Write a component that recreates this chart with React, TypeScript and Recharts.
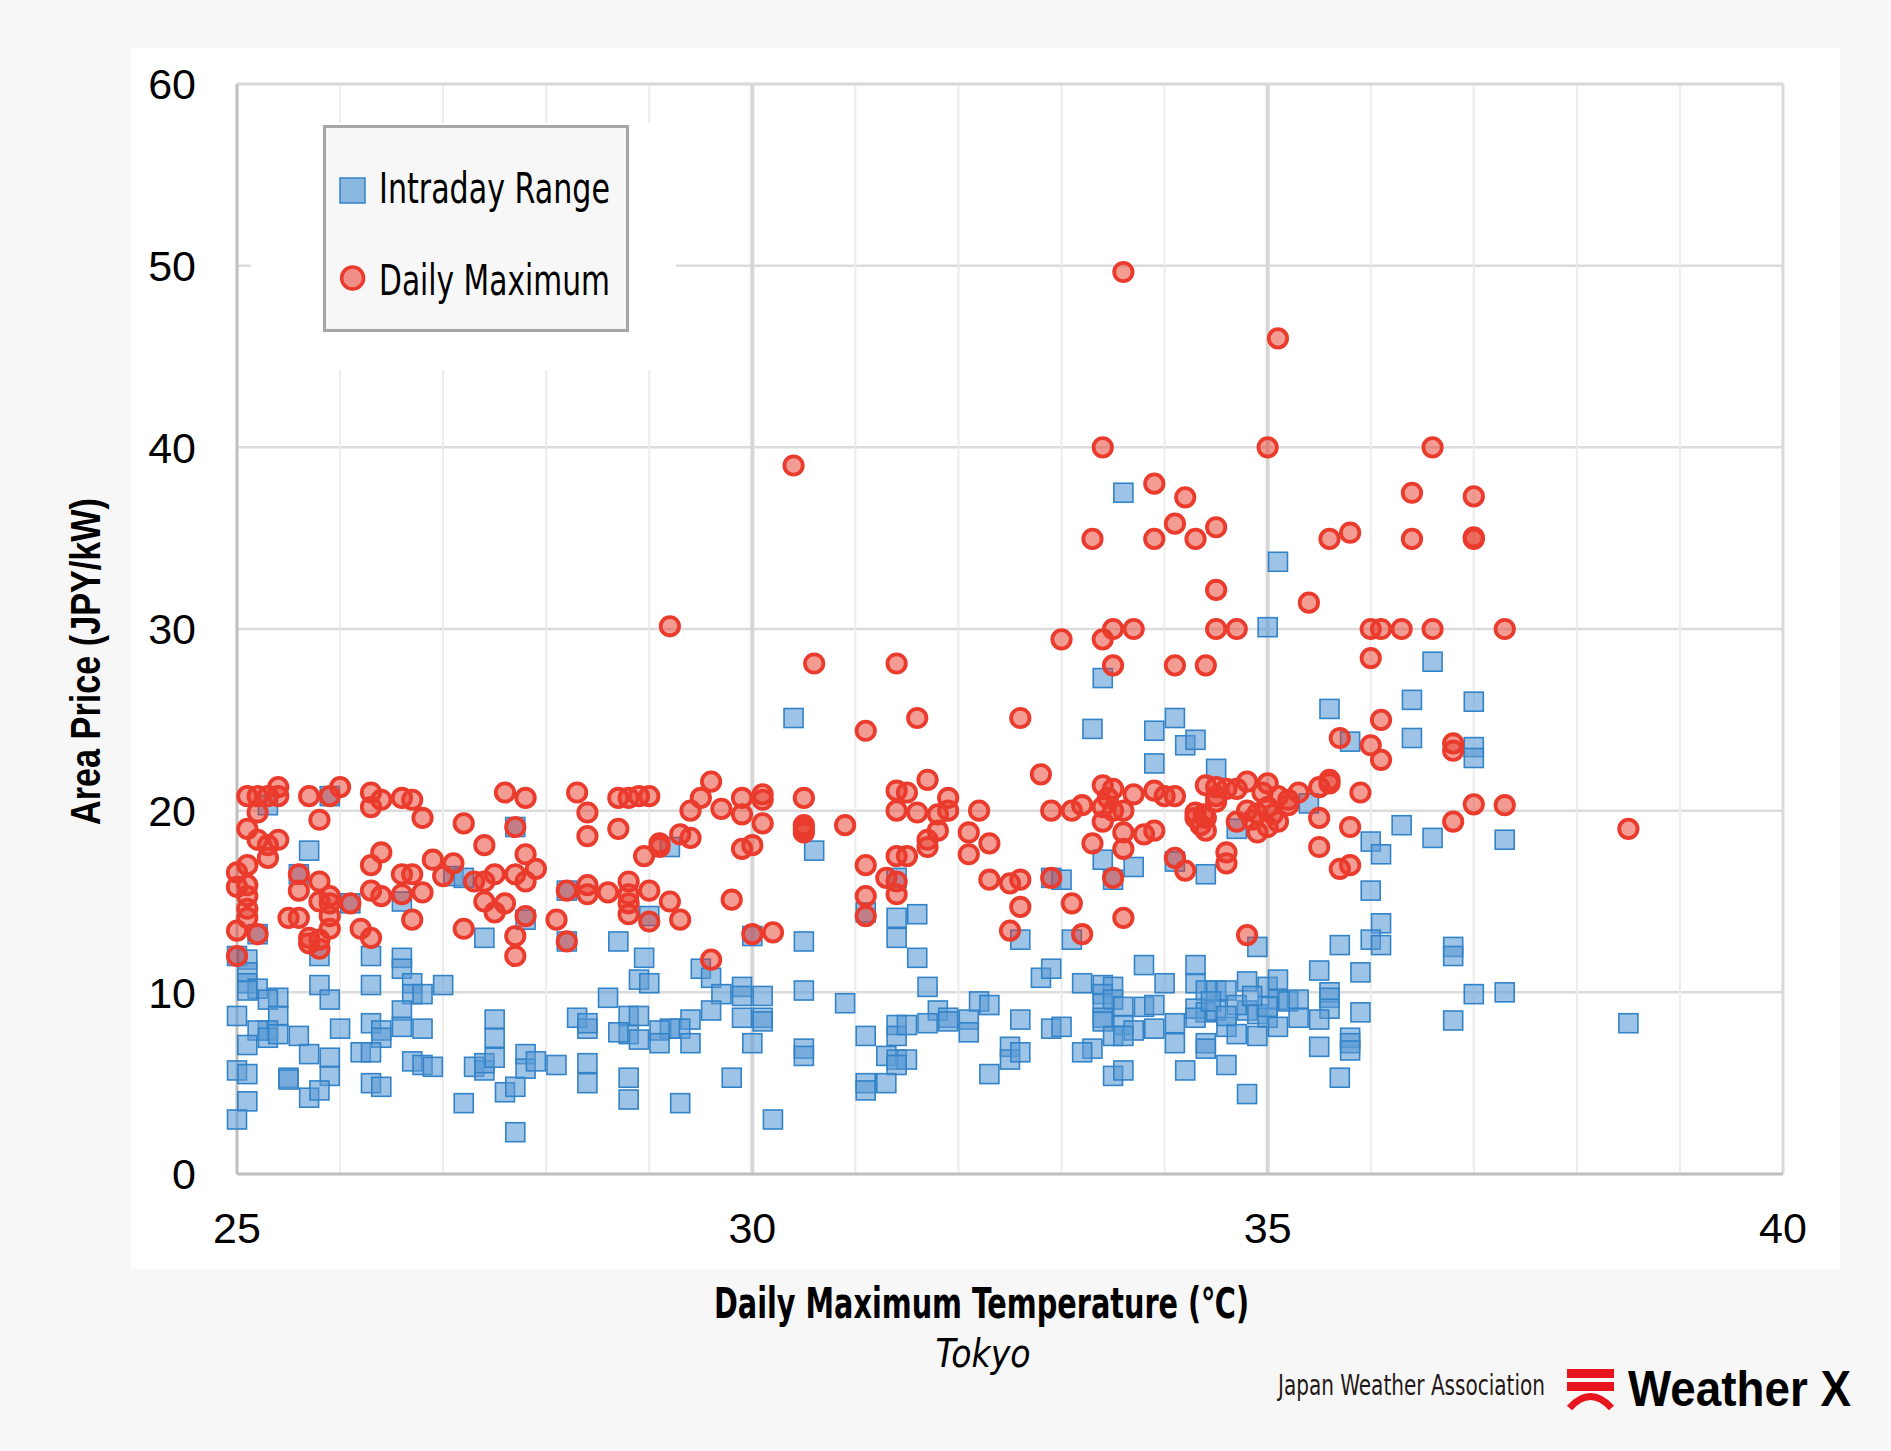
import { CartesianGrid, Legend, ReferenceLine, Scatter, ScatterChart, XAxis, YAxis } from 'recharts';

// daily max temperature (°C), area price (JPY/kW)
const intradayRange: [number, number][] = [
  [25.3, 20.3], [25.9, 20.8], [25.7, 17.8], [25.6, 16.5], [25.2, 13.2], [25.0, 12.0], [25.1, 11.8], [25.1, 11.1],
  [25.1, 10.5], [25.2, 10.2], [25.1, 10.1], [25.4, 9.7], [25.3, 9.6], [25.0, 8.7], [25.4, 8.7], [25.3, 7.9],
  [25.2, 7.9], [25.3, 7.5], [25.4, 7.7], [25.6, 7.6], [25.1, 7.1], [25.0, 5.7], [25.1, 5.5], [25.5, 5.3],
  [25.5, 5.2], [25.7, 6.6], [25.9, 6.4], [25.9, 5.4], [25.7, 4.2], [25.8, 4.6], [25.1, 4.0], [25.0, 3.0],
  [25.8, 12.0], [25.8, 10.4], [25.9, 9.6], [26.0, 8.0], [26.3, 12.0], [26.3, 10.4], [26.3, 8.3], [26.4, 7.9],
  [26.4, 7.5], [26.2, 6.7], [26.3, 6.7], [26.3, 5.0], [26.4, 4.8], [26.6, 11.9], [26.6, 11.3], [26.7, 10.5],
  [26.7, 9.9], [26.8, 9.9], [27.0, 10.4], [26.6, 9.0], [26.6, 8.1], [26.8, 8.0], [26.7, 6.2], [26.8, 6.0],
  [26.9, 5.9], [26.1, 14.9], [26.6, 15.0], [27.1, 16.4], [27.2, 16.3], [27.4, 13.0], [27.3, 5.9], [27.4, 5.7],
  [27.4, 6.1], [27.2, 3.9], [27.5, 8.5], [27.5, 7.5], [27.5, 6.4], [27.6, 4.5], [27.7, 4.8], [27.7, 2.3],
  [27.8, 6.6], [27.8, 5.8], [27.9, 6.2], [28.1, 6.0], [27.7, 19.1], [27.8, 14.0], [28.2, 15.6], [28.2, 12.8],
  [28.3, 8.6], [28.4, 8.0], [28.4, 8.3], [28.6, 9.7], [28.4, 6.1], [28.4, 5.0], [28.7, 12.8], [28.8, 7.7],
  [28.8, 8.7], [28.9, 8.7], [28.7, 7.8], [28.8, 5.3], [28.8, 4.1], [28.9, 7.4], [28.9, 10.7], [28.95, 11.9],
  [29.2, 18.0], [29.0, 14.2], [30.0, 13.1], [30.6, 17.8], [30.5, 12.8], [29.0, 10.5], [29.5, 11.3], [29.6, 10.8],
  [29.7, 9.9], [29.9, 10.3], [29.9, 9.8], [30.1, 9.8], [29.6, 9.0], [29.9, 8.6], [30.1, 8.6], [30.1, 8.4],
  [29.4, 8.5], [29.3, 8.0], [29.2, 8.0], [29.1, 7.9], [29.1, 7.2], [29.4, 7.2], [30.0, 7.2], [30.5, 10.1],
  [30.5, 6.9], [30.5, 6.5], [30.9, 9.4], [29.8, 5.3], [29.3, 3.9], [30.2, 3.0], [31.1, 7.6], [31.3, 6.5],
  [31.4, 8.2], [31.4, 7.6], [31.5, 8.2], [31.4, 6.3], [31.5, 6.3], [31.4, 6.0], [31.1, 5.0], [31.1, 4.6],
  [31.3, 5.0], [31.1, 14.4], [31.4, 14.1], [31.6, 14.3], [31.4, 13.0], [31.6, 11.9], [31.4, 16.3], [31.7, 10.3],
  [31.8, 9.0], [31.7, 8.3], [31.9, 8.6], [31.9, 8.4], [32.1, 8.5], [32.1, 7.8], [32.2, 9.5], [32.3, 9.3],
  [32.5, 7.0], [32.5, 6.3], [32.6, 6.7], [32.3, 5.5], [32.6, 8.5], [32.6, 12.9], [32.8, 10.8], [32.9, 11.3],
  [32.9, 8.0], [32.9, 16.3], [30.4, 25.1],
  [33.9, 22.6], [34.5, 22.3], [35.4, 20.4], [33.4, 17.3], [33.7, 16.9], [33.0, 16.2], [33.5, 16.2], [34.1, 17.2],
  [34.4, 16.5], [33.1, 12.9], [34.9, 12.5], [36.3, 19.2], [36.6, 18.5], [36.0, 18.3], [36.1, 17.6], [36.0, 15.6],
  [36.1, 13.8], [36.0, 12.9], [36.1, 12.6], [35.7, 12.6], [36.8, 12.5], [36.8, 12.0], [36.8, 8.45], [33.2, 10.5],
  [33.4, 10.4], [33.5, 10.3], [33.4, 9.9], [33.4, 9.4], [33.5, 9.6], [33.6, 9.2], [33.4, 8.6], [33.4, 8.4],
  [33.6, 8.2], [33.7, 7.9], [33.5, 7.6], [33.6, 7.6], [33.8, 9.2], [33.9, 9.3], [33.8, 11.5], [34.0, 10.5],
  [34.1, 8.3], [33.9, 8.0], [34.1, 7.2], [33.3, 6.9], [33.2, 6.7], [33.5, 5.4], [33.6, 5.7], [34.2, 5.7],
  [34.3, 11.5], [34.3, 10.5], [34.4, 10.1], [34.3, 9.1], [34.4, 8.9], [34.5, 10.1], [34.6, 10.1], [34.5, 9.0],
  [34.3, 8.6], [34.4, 7.2], [34.6, 6.0], [34.6, 8.1], [34.7, 7.7], [34.8, 10.6], [34.8, 9.0], [34.9, 8.8],
  [35.0, 10.3], [35.1, 10.7], [35.1, 9.6], [35.2, 9.5], [35.3, 9.6], [35.0, 8.6], [35.1, 8.1], [34.9, 7.6],
  [35.3, 8.6], [35.5, 11.2], [35.6, 10.0], [35.6, 9.7], [35.6, 9.1], [35.5, 8.5], [35.9, 11.1], [35.9, 8.9],
  [35.5, 7.0], [35.8, 7.5], [35.8, 7.2], [35.8, 6.8], [35.7, 5.3], [34.8, 4.4], [34.4, 6.9], [33.0, 8.1],
  [34.45, 9.5], [34.7, 9.3], [35.0, 9.2], [34.85, 9.8], [34.6, 8.7], [34.7, 19.0],
  [33.6, 37.5], [35.1, 33.7], [35.0, 30.1], [36.6, 28.2], [33.4, 27.3], [36.4, 26.1], [37.0, 26.0], [35.6, 25.6],
  [33.3, 24.5], [34.1, 25.1], [33.9, 24.4], [36.4, 24.0], [35.8, 23.8], [34.2, 23.6], [34.3, 23.9], [37.0, 23.5],
  [37.0, 22.9], [37.3, 18.4], [37.0, 9.9], [37.3, 10.0], [38.5, 8.3],
];

const dailyMaximum: [number, number][] = [
  [25.1, 20.8], [25.2, 20.8], [25.3, 20.8], [25.4, 21.3], [25.4, 20.8], [25.2, 19.9], [25.7, 20.8], [25.9, 20.8],
  [26.0, 21.3], [25.8, 19.5], [26.3, 21.0], [26.4, 20.6], [26.3, 20.2], [26.6, 20.7], [26.7, 20.6], [26.8, 19.6],
  [25.1, 19.0], [25.2, 18.4], [25.3, 18.1], [25.4, 18.4], [25.3, 17.4], [25.1, 17.0], [25.0, 16.6], [25.0, 15.8],
  [25.1, 15.9], [25.1, 15.3], [25.1, 14.6], [25.1, 14.1], [25.0, 13.4], [25.2, 13.2], [25.0, 12.0], [25.6, 16.5],
  [25.6, 15.6], [25.8, 16.1], [25.8, 15.0], [25.9, 15.3], [25.9, 14.9], [25.9, 14.2], [25.9, 13.5], [26.1, 14.9],
  [25.5, 14.1], [25.6, 14.1], [25.7, 13.0], [25.8, 12.9], [25.7, 12.7], [25.8, 12.4], [26.4, 17.7], [26.3, 17.0],
  [26.3, 15.6], [26.4, 15.3], [26.6, 16.5], [26.7, 16.5], [26.6, 15.4], [26.8, 15.5], [26.7, 14.0], [26.2, 13.5],
  [26.3, 13.0], [26.9, 17.3], [27.1, 17.1], [27.0, 16.4], [27.2, 19.3], [27.4, 18.1], [27.3, 16.1], [27.4, 16.1],
  [27.5, 16.5], [27.4, 15.0], [27.6, 14.9], [27.5, 14.4], [27.2, 13.5], [27.6, 21.0], [27.8, 20.7], [27.7, 19.1],
  [27.8, 17.6], [27.9, 16.8], [27.7, 16.5], [27.8, 16.1], [27.8, 14.2], [27.7, 13.1], [27.7, 12.0], [28.1, 14.0],
  [28.2, 12.8], [28.2, 15.6], [28.4, 15.9], [28.4, 15.4], [28.6, 15.5], [28.3, 21.0], [28.4, 19.9], [28.4, 18.6],
  [28.7, 19.0], [28.7, 20.7], [28.8, 20.7], [28.9, 20.8], [28.8, 16.1], [28.8, 15.4], [28.8, 14.9], [28.8, 14.3],
  [28.95, 17.5],
  [29.0, 20.8], [29.6, 21.6], [29.5, 20.7], [29.4, 20.0], [29.7, 20.1], [29.9, 20.7], [29.9, 19.8], [30.1, 20.9],
  [30.1, 20.6], [30.1, 19.3], [30.5, 20.7], [30.5, 19.2], [30.5, 19.0], [30.5, 18.8], [30.9, 19.2], [29.3, 18.7],
  [29.4, 18.5], [29.1, 18.2], [29.1, 18.0], [29.9, 17.9], [30.0, 18.1], [29.0, 15.6], [29.2, 15.0], [29.0, 13.9],
  [29.3, 14.0], [29.8, 15.1], [30.0, 13.2], [30.2, 13.3], [29.6, 11.8], [31.1, 17.0], [31.1, 15.3], [31.1, 14.2],
  [31.3, 16.3], [31.4, 16.1], [31.4, 15.4], [31.4, 21.1], [31.5, 21.0], [31.4, 20.0], [31.6, 19.9], [31.7, 21.7],
  [31.9, 20.7], [31.9, 20.0], [31.8, 19.8], [31.8, 18.9], [31.7, 18.4], [31.7, 18.0], [31.4, 17.5], [31.5, 17.5],
  [32.2, 20.0], [32.1, 18.8], [32.3, 18.2], [32.1, 17.6], [32.3, 16.2], [32.5, 16.0], [32.6, 16.2], [32.6, 14.7],
  [32.5, 13.4], [32.8, 22.0], [32.9, 20.0], [32.9, 16.3],
  [30.4, 39.0], [29.2, 30.15], [30.6, 28.1], [31.4, 28.1], [31.1, 24.4], [31.6, 25.1], [32.6, 25.1],
  [33.1, 20.0], [33.2, 20.3], [33.4, 21.4], [33.5, 21.2], [33.4, 20.2], [33.5, 20.0], [33.6, 20.0], [33.4, 19.4],
  [33.7, 20.9], [33.9, 21.1], [34.0, 20.8], [34.1, 20.8], [33.6, 18.8], [33.8, 18.7], [33.9, 18.9], [33.3, 18.2],
  [33.6, 17.9], [34.1, 17.4], [34.2, 16.7], [33.5, 16.3], [33.1, 14.9], [33.2, 13.2], [33.6, 14.1], [34.3, 19.9],
  [34.3, 19.6], [34.4, 19.6], [34.4, 18.9], [34.4, 21.4], [34.5, 21.3], [34.6, 21.2], [34.7, 21.2], [34.8, 21.6],
  [35.0, 21.5], [34.5, 20.8], [34.5, 20.5], [34.7, 19.4], [34.8, 20.0], [34.9, 19.85], [34.9, 18.8], [35.0, 19.1],
  [35.1, 19.4], [35.2, 20.6], [35.3, 21.0], [35.5, 21.3], [35.6, 21.5], [35.6, 21.7], [35.5, 19.6], [35.8, 19.1],
  [35.9, 21.0], [35.5, 18.0], [35.7, 16.8], [35.8, 17.0], [34.6, 17.7], [34.6, 17.1], [34.8, 13.15], [36.1, 22.8],
  [36.8, 19.4], [34.35, 19.2], [34.38, 19.8], [34.85, 19.5], [35.0, 20.2], [35.05, 19.8], [34.95, 21.0],
  [35.1, 20.8], [35.2, 20.3], [33.45, 20.7],
  [33.6, 49.65], [35.1, 46.0], [33.4, 40.0], [35.0, 40.0], [36.6, 40.0], [33.9, 38.0], [34.2, 37.25], [36.4, 37.5],
  [37.0, 37.3], [34.1, 35.8], [34.5, 35.6], [33.3, 34.96], [33.9, 34.96], [34.3, 34.96], [35.6, 34.96],
  [35.8, 35.3], [36.4, 34.96], [37.0, 34.96], [37.0, 35.05], [34.5, 32.15], [35.4, 31.45], [33.0, 29.43],
  [33.4, 29.43], [33.5, 30.0], [33.7, 30.0], [34.5, 30.0], [34.7, 30.0], [36.0, 30.0], [36.1, 30.0], [36.3, 30.0],
  [36.6, 30.0], [37.3, 30.0], [36.0, 28.4], [33.5, 28.0], [34.1, 28.0], [34.4, 28.0], [36.1, 25.0], [35.7, 24.0],
  [36.0, 23.6], [36.8, 23.7], [36.8, 23.3], [37.0, 20.35], [37.3, 20.3], [38.5, 19.0],
];

const xTicks = [25, 30, 35, 40];
const xMajor = [30, 35];
const xMinor = [26, 27, 28, 29, 31, 32, 33, 34, 36, 37, 38, 39];
const yTicks = [0, 10, 20, 30, 40, 50, 60];

const rangeData = intradayRange.map(([x, y]) => ({ x, y }));
const maxData = dailyMaximum.map(([x, y]) => ({ x, y }));

const SANS = '"Liberation Sans", Arial, sans-serif';
const NARROW = '"Liberation Sans Narrow", "DejaVu Sans Condensed", "Liberation Sans", sans-serif';

const tickStyle = { fill: '#000', fontSize: 43, fontFamily: SANS };

function SquareMark(props: any) {
  const { cx, cy } = props;
  return (
    <rect x={cx - 9.5} y={cy - 9.5} width={19} height={19} fill="#5b9bd5" fillOpacity={0.6} stroke="#3283c8" strokeWidth={1.6} />
  );
}

function CircleMark(props: any) {
  const { cx, cy } = props;
  return <circle cx={cx} cy={cy} r={9.2} fill="#e8392a" fillOpacity={0.5} stroke="#ea3b2c" strokeWidth={3.8} />;
}

function LegendBox() {
  return (
    <svg width={425} height={247} style={{ display: 'block' }}>
      <rect x={0} y={0} width={425} height={247} fill="#fff" />
      <g transform="translate(72,2)">
        <rect x={1.5} y={1.5} width={303} height={204} fill="#f7f7f7" stroke="#a6a6a6" strokeWidth={3} />
        <rect x={17} y={53} width={25} height={25} fill="#5b9bd5" fillOpacity={0.7} stroke="#3283c8" strokeWidth={1.5} />
        <text x={56} y={78} fontSize={42} fontFamily={NARROW} fill="#000" textLength={231} lengthAdjust="spacingAndGlyphs">
          Intraday Range
        </text>
        <circle cx={29.6} cy={153} r={11} fill="#e8392a" fillOpacity={0.55} stroke="#ea3b2c" strokeWidth={3.5} />
        <text x={56} y={170} fontSize={42} fontFamily={NARROW} fill="#000" textLength={231} lengthAdjust="spacingAndGlyphs">
          Daily Maximum
        </text>
      </g>
    </svg>
  );
}

export default function App() {
  return (
    <div style={{ position: 'absolute', left: 0, top: 0, width: 1891, height: 1451, background: '#f7f7f7', overflow: 'hidden' }}>
      <div style={{ position: 'absolute', left: 131, top: 48, width: 1709, height: 1221, background: '#fff' }} />
      <div style={{ position: 'absolute', left: 0, top: 0 }}>
        <ScatterChart width={1891} height={1451} margin={{ top: 84, right: 108, bottom: 217, left: 137 }}>
          <CartesianGrid vertical={false} stroke="#dcdcdc" strokeWidth={2.5} />
          {xMinor.map((v) => (
            <ReferenceLine key={v} x={v} stroke="#ececec" strokeWidth={2} />
          ))}
          {xMajor.map((v) => (
            <ReferenceLine key={v} x={v} stroke="#d6d6d6" strokeWidth={4} />
          ))}
          <ReferenceLine y={60} stroke="#d9d9d9" strokeWidth={3} />
          <ReferenceLine x={40} stroke="#d9d9d9" strokeWidth={3} />
          <XAxis
            dataKey="x"
            type="number"
            domain={[25, 40]}
            ticks={xTicks}
            interval={0}
            height={60}
            tickLine={false}
            tickSize={0}
            tickMargin={38}
            axisLine={{ stroke: '#bfbfbf', strokeWidth: 3 }}
            tick={tickStyle}
          />
          <YAxis
            dataKey="y"
            type="number"
            domain={[0, 60]}
            ticks={yTicks}
            interval={0}
            width={100}
            tickLine={false}
            tickSize={0}
            tickMargin={41}
            axisLine={{ stroke: '#bfbfbf', strokeWidth: 3 }}
            tick={tickStyle}
          />
          <Legend
            layout="horizontal"
            verticalAlign="middle"
            align="center"
            width={425}
            height={247}
            wrapperStyle={{ left: 251, top: 123, width: 425, height: 247 }}
            content={() => <LegendBox />}
          />
          <Scatter name="Intraday Range" data={rangeData} shape={SquareMark} isAnimationActive={false} />
          <Scatter name="Daily Maximum" data={maxData} shape={CircleMark} isAnimationActive={false} />
        </ScatterChart>
      </div>
      <svg width={1891} height={1451} style={{ position: 'absolute', left: 0, top: 0, pointerEvents: 'none' }}>
        <text
          transform="translate(100,661.5) rotate(-90)"
          textAnchor="middle"
          fontSize={42}
          fontWeight="bold"
          fontFamily={SANS}
          fill="#000"
          textLength={327}
          lengthAdjust="spacingAndGlyphs"
        >
          Area Price (JPY/kW)
        </text>
        <text
          x={981.5}
          y={1318}
          textAnchor="middle"
          fontSize={42}
          fontWeight="bold"
          fontFamily={NARROW}
          fill="#000"
          textLength={535}
          lengthAdjust="spacingAndGlyphs"
        >
          Daily Maximum Temperature (℃)
        </text>
        <text
          x={983}
          y={1367}
          textAnchor="middle"
          fontSize={39}
          fontStyle="italic"
          fontFamily={NARROW}
          fill="#000"
          textLength={95}
          lengthAdjust="spacingAndGlyphs"
        >
          Tokyo
        </text>
        <text x={1278} y={1395} fontSize={28} fontFamily={NARROW} fill="#231815" textLength={267} lengthAdjust="spacingAndGlyphs">
          Japan Weather Association
        </text>
        <rect x={1567} y={1369} width={47} height={9} fill="#e8151f" />
        <rect x={1567} y={1382} width={47} height={9} fill="#e8151f" />
        <path d="M 1569.5 1408 Q 1590.5 1385 1611.5 1408" fill="none" stroke="#e8151f" strokeWidth={7} />
        <text x={1628} y={1406} fontSize={50} fontWeight="bold" fontFamily={SANS} fill="#000" textLength={223} lengthAdjust="spacingAndGlyphs">
          Weather X
        </text>
      </svg>
    </div>
  );
}
